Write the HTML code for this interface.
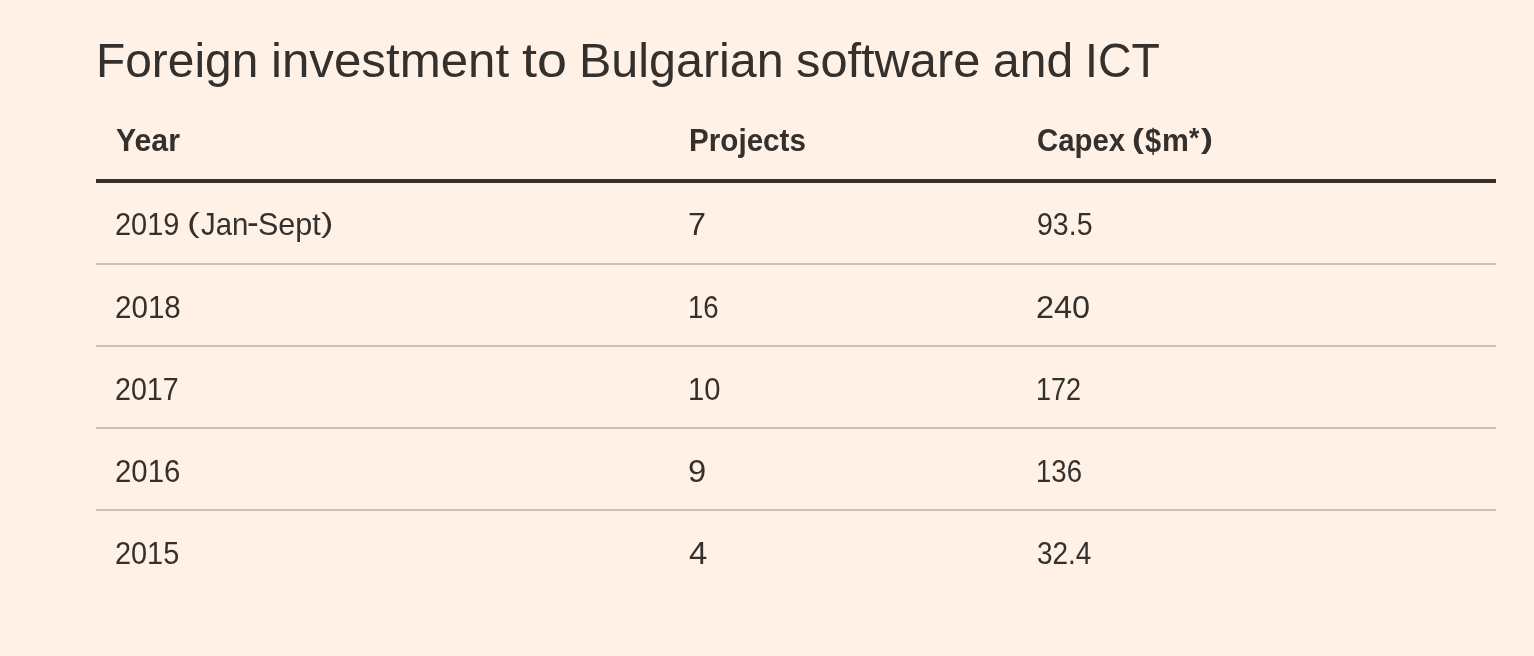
<!DOCTYPE html>
<html lang="en">
<head>
<meta charset="utf-8">
<title>Foreign investment to Bulgarian software and ICT</title>
<style>
html,body{margin:0;padding:0}
body{width:1534px;height:656px;overflow:hidden;background:#fff1e5;color:#33302e;font-family:"Liberation Sans",sans-serif;position:relative}
.f{display:inline-block;position:relative;line-height:1;white-space:nowrap;transform-origin:0 0}
h1{position:absolute;left:96px;top:30px;margin:0;font-size:49px;line-height:60px;font-weight:400;white-space:nowrap}
table{position:absolute;left:96px;top:99px;width:1400px;border-collapse:separate;border-spacing:0;table-layout:fixed;font-size:32px;line-height:40px}
col.c1{width:574px} col.c2{width:348px} col.c3{width:478px}
th,td{padding:20px;text-align:left;vertical-align:top;white-space:nowrap;overflow:visible}
th{font-weight:700;border-bottom:4px solid #33302e}
td{font-weight:400;border-bottom:2px solid #ccc1b7}
tbody tr:last-child td{border-bottom:0}
</style>
</head>
<body>
<h1><span class="f" style="left:-0.11px;top:0.00px;transform:scaleX(0.9767)">Foreign</span> <span class="f" style="left:-4.84px;top:0.00px;transform:scaleX(1.0051)">investment</span> <span class="f" style="left:-4.06px;top:0.00px;transform:scaleX(1.1007)">to</span> <span class="f" style="left:-1.98px;top:0.00px;transform:scaleX(0.9885)">Bulgarian</span> <span class="f" style="left:-5.12px;top:0.00px;transform:scaleX(0.9953)">software</span> <span class="f" style="left:-7.66px;top:0.00px;transform:scaleX(0.9798)">and</span> <span class="f" style="left:-10.25px;top:0.00px;transform:scaleX(0.9474)">ICT</span></h1>
<table>
<colgroup><col class="c1"><col class="c2"><col class="c3"></colgroup>
<thead>
<tr><th><span class="f" style="left:0.23px;top:1.00px;transform:scaleX(0.9453)">Year</span></th><th><span class="f" style="left:-1.05px;top:1.00px;transform:scaleX(0.9260)">Projects</span></th><th><span class="f" style="left:-1.15px;top:1.00px;transform:scaleX(0.9175)">Capex</span> <span class="f" style="left:-10.61px;top:1.76px;transform:scale(1.1111,0.8633)">(</span><span class="f" style="left:-9.04px;top:-0.34px;transform:scale(0.9059,1.0590)">$</span><span class="f" style="left:-9.28px;top:1.00px;transform:scaleX(0.9429)">m</span><span class="f" style="left:-10.84px;top:0.75px;transform:scale(0.8240,0.8500)">*</span><span class="f" style="left:-11.80px;top:1.76px;transform:scale(1.1222,0.8633)">)</span></th></tr>
</thead>
<tbody>
<tr><td><span class="f" style="left:-0.66px;top:1.00px;transform:scaleX(0.9055)">2019</span> <span class="f" style="left:-9.46px;top:1.56px;transform:scale(1.1882,0.8633)">(</span><span class="f" style="left:-6.19px;top:1.00px;transform:scaleX(0.9184)">Jan</span><span class="f" style="left:-11.51px;top:-1.63px;transform:scale(1.1000,1.0800)">-</span><span class="f" style="left:-11.21px;top:1.00px;transform:scaleX(0.9541)">Sept</span><span class="f" style="left:-13.40px;top:1.56px;transform:scale(1.1647,0.8633)">)</span></td><td><span class="f" style="left:-2.02px;top:1.00px;transform:scaleX(1.0102)">7</span></td><td><span class="f" style="left:-1.44px;top:1.00px;transform:scaleX(0.8908)">93.5</span></td></tr>
<tr><td><span class="f" style="left:-0.99px;top:2.00px;transform:scaleX(0.9245)">2018</span></td><td><span class="f" style="left:-2.25px;top:2.00px;transform:scaleX(0.8598)">16</span></td><td><span class="f" style="left:-1.62px;top:2.00px;transform:scaleX(1.0148)">240</span></td></tr>
<tr><td><span class="f" style="left:-0.94px;top:2.00px;transform:scaleX(0.8941)">2017</span></td><td><span class="f" style="left:-2.28px;top:2.00px;transform:scaleX(0.9125)">10</span></td><td><span class="f" style="left:-2.31px;top:2.00px;transform:scaleX(0.8447)">172</span></td></tr>
<tr><td><span class="f" style="left:-0.98px;top:2.00px;transform:scaleX(0.9172)">2016</span></td><td><span class="f" style="left:-1.54px;top:2.00px;transform:scaleX(1.0237)">9</span></td><td><span class="f" style="left:-2.35px;top:2.00px;transform:scaleX(0.8606)">136</span></td></tr>
<tr><td><span class="f" style="left:-0.95px;top:2.00px;transform:scaleX(0.9022)">2015</span></td><td><span class="f" style="left:-1.37px;top:2.00px;transform:scaleX(1.0277)">4</span></td><td><span class="f" style="left:-1.29px;top:2.00px;transform:scaleX(0.8730)">32.4</span></td></tr>
</tbody>
</table>
</body>
</html>
